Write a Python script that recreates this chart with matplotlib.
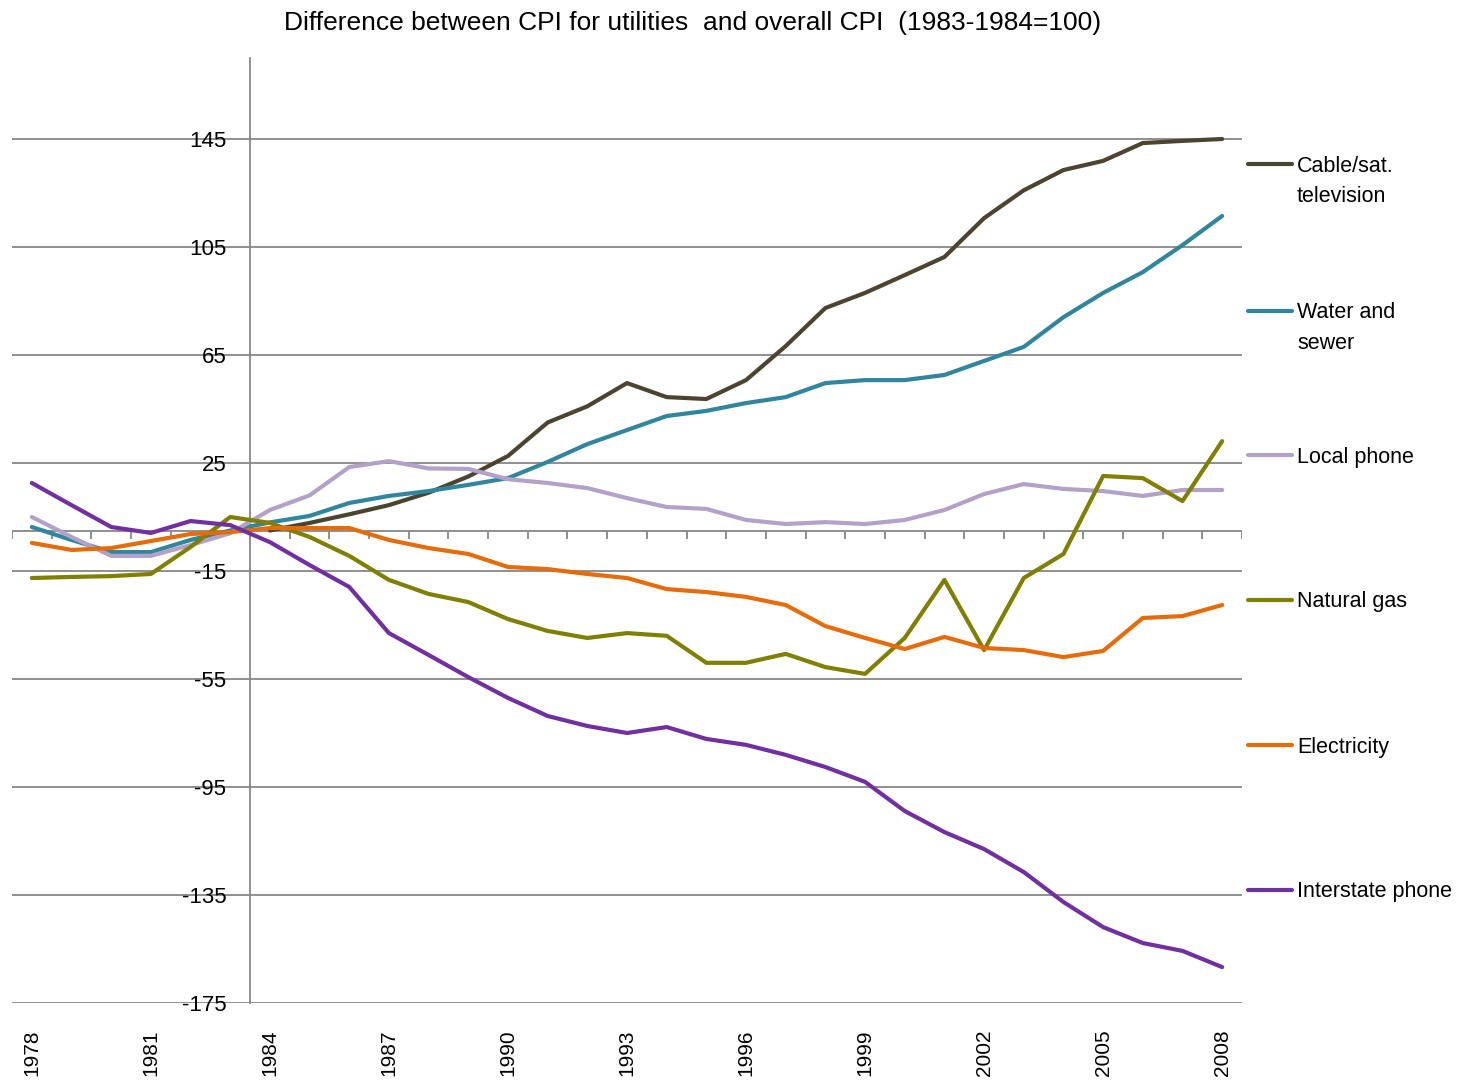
import matplotlib.pyplot as plt
from matplotlib.lines import Line2D
import numpy as np

plt.rcParams['font.family'] = ['Liberation Sans Narrow', 'Liberation Sans', 'DejaVu Sans']

# Daten
years = np.arange(1978, 2009)

cable_years = np.arange(1984, 2009)
cable = [0, 2.8, 6, 9.4, 14, 20, 27.6, 40, 46, 54.6, 49.4, 48.7, 55.7, 68.3, 82.4,
         88, 94.6, 101.3, 115.7, 126, 133.5, 136.9, 143.5, 144.3, 145]
water = [1.3, -3.5, -8, -8, -3.5, 0, 3, 5.4, 10.2, 12.8, 14.6, 16.9, 19.4, 25.4, 32,
         37.2, 42.4, 44.3, 47.2, 49.4, 54.6, 55.7, 55.7, 57.6, 62.8, 68, 79, 88, 95.7,
         105.7, 116.5]
local_phone = [5, -2.4, -9.4, -9.4, -5.4, -1, 7.6, 13, 23.5, 25.7, 23, 22.8, 19, 17.6,
               15.7, 12, 8.7, 8, 3.9, 2.4, 3.1, 2.4, 3.9, 7.6, 13.5, 17.2, 15.4, 14.6,
               12.8, 15, 15]
natural_gas = [-17.6, -17.2, -16.9, -16.1, -6.1, 5, 2.8, -2.4, -9.4, -18.3, -23.5, -26.5,
               -32.8, -37.2, -39.8, -38, -39, -49, -49, -45.7, -50.6, -53.1, -39.8, -18.3,
               -44.3, -17.6, -8.7, 20.2, 19.4, 10.9, 33.1]
electricity = [-4.6, -7.2, -6.5, -3.9, -1.3, -0.6, 0.9, 0.9, 0.9, -3.5, -6.5, -8.7, -13.5,
               -14.3, -16.1, -17.6, -21.7, -22.8, -24.6, -27.6, -35.4, -39.8, -43.9, -39.4,
               -43.5, -44.3, -46.9, -44.6, -32.4, -31.7, -27.6]
interstate = [17.6, 9.4, 1.3, -0.9, 3.5, 2, -4.3, -12.8, -20.9, -38, -46.1, -54.3, -62,
              -68.7, -72.4, -75, -72.8, -77.2, -79.4, -83.1, -87.6, -93.1, -103.9, -111.7,
              -118, -126.5, -137.6, -146.9, -152.8, -155.7, -161.7]

labels = ['Cable/sat.\ntelevision', 'Water and\nsewer', 'Local phone', 'Natural gas',
          'Electricity', 'Interstate phone']
colors = ['#4a4430', '#31859c', '#b3a2c7', '#7f7f00', '#e46c0a', '#7030a0']
yticks = [145, 105, 65, 25, -15, -55, -95, -135, -175]
xlabel_years = years[::3]

# Plot
fig = plt.figure(figsize=(14.62, 10.80), dpi=100)
ax = fig.add_axes([12/1462, 77/1080, 1230/1462, 945/1080])

series = [(cable_years, cable), (years, water), (years, local_phone),
          (years, natural_gas), (years, electricity), (years, interstate)]
for (xs, ys), c in zip(series, colors):
    ax.plot(xs, ys, color=c, linewidth=3, solid_capstyle='round', zorder=3)

ax.set_xlim(1977.5, 2008.5)
ax.set_ylim(-175, 175)

grid_c = '#878787'
ax.set_yticks(yticks)
ax.set_yticklabels([str(v) for v in yticks])
ax.yaxis.grid(True, color=grid_c, linewidth=1.3)
ax.set_axisbelow(True)
ax.tick_params(axis='y', length=0, pad=17, labelsize=16)

ax.set_xticks(xlabel_years)
ax.set_xticklabels([str(v) for v in xlabel_years], rotation=90)
ax.tick_params(axis='x', length=0, pad=19, labelsize=15)

for s in ['top', 'right', 'bottom']:
    ax.spines[s].set_visible(False)
ax.spines['left'].set_position(('data', 1983.5))
ax.spines['left'].set_color(grid_c)
ax.spines['left'].set_linewidth(1.3)

# Nulllinie mit Teilstrichen
ax.axhline(0, color=grid_c, linewidth=1.3, zorder=2)
ax.vlines(np.arange(1977.5, 2009), -3.2, 0, color=grid_c, linewidth=1.3, zorder=2)

# Titel
fig.text(0.474, 0.979, 'Difference between CPI for utilities  and overall CPI  (1983-1984=100)',
         ha='center', va='center', fontsize=19)

# Legende
leg_y = [164, 311, 455, 600, 745, 890]
for lab, c, py in zip(labels, colors, leg_y):
    yf = 1 - py / 1080
    fig.add_artist(Line2D([1248/1462, 1292/1462], [yf, yf], color=c, linewidth=3,
                          solid_capstyle='round'))
    for i, part in enumerate(lab.split('\n')):
        fig.text(1297/1462, 1 - (py + 2 + 30*i) / 1080, part, ha='left', va='center',
                 fontsize=15.5)

plt.savefig('out.png', dpi=100)
